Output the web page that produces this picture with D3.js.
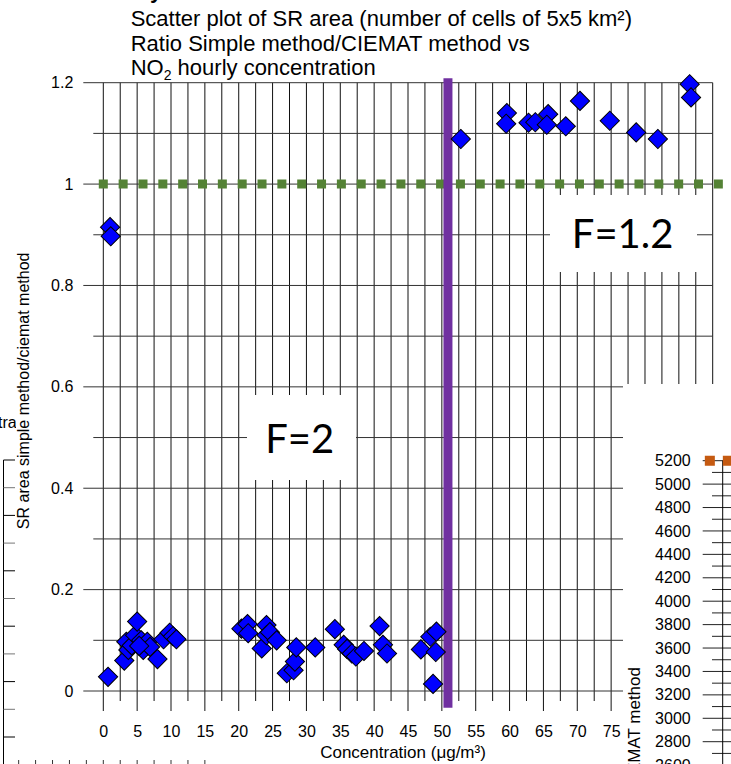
<!DOCTYPE html>
<html>
<head>
<meta charset="utf-8">
<script src="https://cdn.jsdelivr.net/npm/d3@7"></script>
<style>
body { margin: 0; background: #fff; }
text { font-family: "Liberation Sans", Arial, sans-serif; fill: #000; }
</style>
</head>
<body>
<svg width="731" height="764"></svg>
<script>
// values
var conc = [0.7, 3.1, 3.4, 3.7, 4.2, 4.7, 5.0, 5.6, 5.9, 6.5, 6.9, 5.3, 8.0, 8.9, 9.8, 10.3, 10.8,
            20.4, 21.3, 21.4, 23.4, 24.1, 24.1, 24.6, 25.6, 27.1, 28.1, 28.3, 28.5, 31.3,
            34.2, 35.5, 36.0, 36.7, 37.3, 38.5, 40.8, 41.3, 41.9,
            46.9, 48.3, 49.2, 49.1, 48.7,
            1.0, 1.1,
            52.8, 59.6, 59.5, 62.8, 63.8, 65.7, 65.5, 68.3, 70.4, 74.8, 78.7, 81.9, 86.6, 86.8];
var ratio = [0.028, 0.060, 0.097, 0.081, 0.090, 0.110, 0.137, 0.100, 0.081, 0.097, 0.087, 0.089, 0.063, 0.102, 0.115, 0.108, 0.102,
             0.123, 0.132, 0.114, 0.084, 0.130, 0.110, 0.116, 0.100, 0.035, 0.041, 0.058, 0.086, 0.086,
             0.122, 0.091, 0.083, 0.074, 0.068, 0.079, 0.128, 0.091, 0.074,
             0.082, 0.107, 0.117, 0.077, 0.014,
             0.915, 0.897,
             1.089, 1.140, 1.119, 1.121, 1.122, 1.138, 1.117, 1.114, 1.164, 1.125, 1.102, 1.089, 1.197, 1.171];

// labels beyond 75 sit under the overlapping chart on the right
var xTickVals = [0, 5, 10, 15, 20, 25, 30, 35, 40, 45, 50, 55, 60, 65, 70, 75];
var yTickVals = [0, 0.2, 0.4, 0.6, 0.8, 1, 1.2];
var refLine = [{c: 0, r: 1}, {c: 91.1, r: 1}];          // green dotted line, ratio = 1
var threshold = [{c: 50.9, r: -0.033}, {c: 50.9, r: 1.209}]; // purple vertical line
var labels = [{text: "F=2", c: 29, r: 0.47}, {text: "F=1.2", c: 76.7, r: 0.873}];

// second chart on the right (cut off)
var rightTickVals = [2600, 2800, 3000, 3200, 3400, 3600, 3800, 4000, 4200, 4400, 4600, 4800, 5000, 5200];
var orangeLine = [{c: -1.9, v: 5200}, {c: 1.4, v: 5200}];

var svg = d3.select("svg");

// --- pieces of the neighbouring charts behind ---
var left = svg.append("g");
var leftY = d3.scaleLinear().domain([0, 11]).range([460, 764.7]);
left.append("line").attr("x1", 3.5).attr("x2", 3.5).attr("y1", 460).attr("y2", 764).attr("stroke", "#000");
left.selectAll(".lt").data(d3.range(0, 12)).enter().append("line")
    .attr("x1", 3.5).attr("x2", 15)
    .attr("y1", function(d) { return leftY(d); }).attr("y2", function(d) { return leftY(d); })
    .attr("stroke", function(d) { return d % 2 ? "#777" : "#000"; });
left.append("text").attr("x", -2).attr("y", 428).style("font-size", "16px").text("tra");

// main chart background
svg.append("rect").attr("x", 16).attr("y", 0).attr("width", 715).attr("height", 757).attr("fill", "#fff");
svg.append("text").attr("x", 150).attr("y", -2).style("font-size", "22px").style("font-weight", "bold").text("y");

var x = d3.scaleLinear().domain([0, 90]).range([103.3, 712.7]),
    y = d3.scaleLinear().domain([0, 1.2]).range([691, 82.7]);

var g = svg.append("g");

// title
var title = g.append("text").attr("x", 130.7).attr("y", 26).style("font-size", "22px");
title.append("tspan").text("Scatter plot of SR area (number of cells of 5x5 km²)");
title.append("tspan").attr("x", 130.7).attr("dy", 24.5).text("Ratio Simple method/CIEMAT method vs");
title.append("tspan").attr("x", 130.7).attr("dy", 24.5).text("NO");
title.append("tspan").attr("dy", 5).style("font-size", "14px").text("2");
title.append("tspan").attr("dy", -5).text(" hourly concentration");

// grid
var vGrid = d3.range(0, 37).map(function(i) { return i * 2.5; });
var hGrid = d3.range(0, 13).map(function(i) { return i / 10; });

g.selectAll(".vgrid").data(vGrid).enter().append("line")
    .attr("class", "vgrid")
    .attr("x1", function(d) { return x(d); }).attr("x2", function(d) { return x(d); })
    .attr("y1", y(1.2))
    .attr("y2", function(d, i) { return y(0) + (i % 2 ? 10 : 20); })
    .attr("stroke", "#111").attr("stroke-width", 1);

g.selectAll(".hgrid").data(hGrid).enter().append("line")
    .attr("class", "hgrid")
    .attr("y1", function(d) { return y(d); }).attr("y2", function(d) { return y(d); })
    .attr("x1", function(d, i) { return x(0) - (i % 2 ? 10 : 20); })
    .attr("x2", x(90))
    .attr("stroke", "#333").attr("stroke-width", 1);

// axes (labels only)
var xAxis = g.append("g")
    .attr("transform", "translate(0," + y(0) + ")")
    .call(d3.axisBottom(x).tickValues(xTickVals).tickSize(0).tickPadding(35));
xAxis.select(".domain").remove();
xAxis.selectAll("text").style("font-size", "16px").style("font-family", "Liberation Sans, Arial, sans-serif");

var yAxis = g.append("g")
    .attr("transform", "translate(" + x(0) + ",0)")
    .call(d3.axisLeft(y).tickValues(yTickVals).tickFormat(String).tickSize(0).tickPadding(30));
yAxis.select(".domain").remove();
yAxis.selectAll("text").style("font-size", "16px").style("font-family", "Liberation Sans, Arial, sans-serif");

var xTitle = g.append("text").attr("x", 403).attr("y", 758).attr("text-anchor", "middle").style("font-size", "17px");
xTitle.text("Concentration (μg/m³)");

g.append("text")
    .attr("transform", "translate(28.5," + ((y(0) + y(1.2)) / 2 + 4) + ") rotate(-90)")
    .attr("text-anchor", "middle")
    .style("font-size", "16px")
    .text("SR area simple method/ciemat method");

// white label boxes
var boxes = [{x0: 247, x1: 356, y0: 395, y1: 480}, {x0: 550, x1: 697, y0: 195, y1: 272}];
g.selectAll(".box").data(boxes).enter().append("rect")
    .attr("x", function(d) { return d.x0; }).attr("y", function(d) { return d.y0; })
    .attr("width", function(d) { return d.x1 - d.x0; }).attr("height", function(d) { return d.y1 - d.y0; })
    .attr("fill", "#fff");
g.selectAll(".flab").data(labels).enter().append("text")
    .attr("x", function(d) { return x(d.c); })
    .attr("y", function(d) { return y(d.r); })
    .attr("text-anchor", "middle")
    .style("font-family", "Lato, 'Open Sans', sans-serif")
    .style("font-size", "40px")
    .text(function(d) { return d.text; });

var line = d3.line()
    .x(function(d) { return x(d.c); })
    .y(function(d) { return y(d.r); });

g.append("path").datum(refLine)
    .attr("d", line)
    .attr("fill", "none")
    .attr("stroke", "#548235")
    .attr("stroke-width", 9)
    .attr("stroke-linecap", "square")
    .attr("stroke-dasharray", "0.01 19.83");

g.append("path").datum(threshold)
    .attr("d", line)
    .attr("fill", "none")
    .attr("stroke", "#7030a0")
    .attr("stroke-width", 9);

var diamond = d3.symbol().type(d3.symbolSquare).size(185);
g.selectAll(".pt").data(conc).enter().append("path")
    .attr("class", "pt")
    .attr("d", diamond)
    .attr("transform", function(d, i) { return "translate(" + x(d) + "," + y(ratio[i]) + ") rotate(45)"; })
    .attr("fill", "#0000ff")
    .attr("stroke", "#000")
    .attr("stroke-width", 1);

// --- chart on the right, overlapping ---
var right = svg.append("g");
right.append("rect").attr("x", 623).attr("y", 384).attr("width", 108).attr("height", 380).attr("fill", "#fff");
var ry = d3.scaleLinear().domain([2800, 5200]).range([741.7, 460.7]);
var rx = d3.scaleLinear().domain([0, 90]).range([722.7, 1332.1]);
var rMinor = d3.range(26, 53).map(function(i) { return i * 100; });
right.selectAll(".rt").data(rMinor).enter().append("line")
    .attr("x1", function(d) { return d % 200 ? 712 : 702.7; }).attr("x2", 731)
    .attr("y1", function(d) { return ry(d); }).attr("y2", function(d) { return ry(d); })
    .attr("stroke", "#222");
right.append("line").attr("x1", 722.7).attr("x2", 722.7).attr("y1", ry(5200)).attr("y2", 764).attr("stroke", "#000");
right.selectAll(".rl").data(rightTickVals).enter().append("text")
    .attr("x", 690.7).attr("y", function(d) { return ry(d); })
    .attr("dy", "0.35em").attr("text-anchor", "end")
    .style("font-size", "16px")
    .text(function(d) { return d; });
right.append("path").datum(orangeLine)
    .attr("d", d3.line().x(function(d) { return rx(d.c); }).y(function(d) { return ry(d.v); }))
    .attr("fill", "none")
    .attr("stroke", "#c55a11")
    .attr("stroke-width", 10)
    .attr("stroke-linecap", "square")
    .attr("stroke-dasharray", "0.01 17.99");
right.append("text")
    .attr("transform", "translate(639.5,667) rotate(-90)")
    .attr("text-anchor", "end")
    .style("font-size", "17px")
    .text("SR area simple method/CIEMAT method");

// tick marks of the chart below
svg.selectAll(".bt").data(d3.range(-5, 7)).enter().append("line")
    .attr("x1", function(d) { return x(d * 2.5); }).attr("x2", function(d) { return x(d * 2.5); })
    .attr("y1", 760).attr("y2", 764)
    .attr("stroke", "#333");
</script>
</body>
</html>
